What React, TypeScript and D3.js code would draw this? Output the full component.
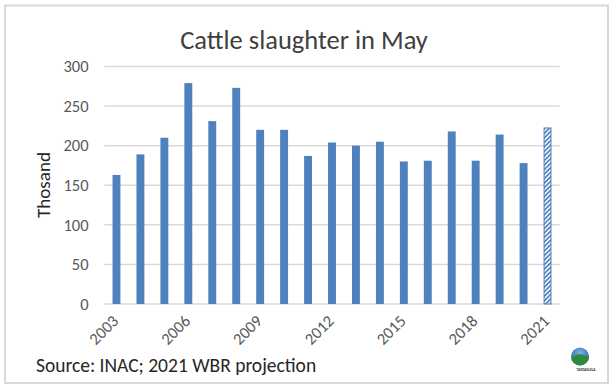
import React from "react";
import * as d3 from "d3";

const years: string[] = ["2003","2004","2005","2006","2007","2008","2009","2010","2011","2012","2013","2014","2015","2016","2017","2018","2019","2020","2021"];
const slaughter: number[] = [163,189,210,279,231,273,220,220,187,204,200,205,180,181,218,181,214,178,223];
const projectedYears: string[] = ["2021"];
const yTicks: number[] = [0,50,100,150,200,250,300];
const xTickLabels: string[] = ["2003","2006","2009","2012","2015","2018","2021"];

const FONT = "Carlito, Calibri, Lato, sans-serif";
const BLUE = "#4f81bd";

export default function App() {
  const x = d3.scaleBand<string>().domain(years).range([104.5, 559.5]).paddingInner(0.67).paddingOuter(0.335);
  const y = d3.scaleLinear().domain([0, 300]).range([304, 66.5]);
  const bw = x.bandwidth();
  return (
    <svg width={615} height={390} style={{ position: "absolute", left: 0, top: 0 }} fontFamily={FONT}>
      <defs>
        <pattern id="hatch" patternUnits="userSpaceOnUse" width={3.2} height={3.2} patternTransform="rotate(45)">
          <rect width={3.2} height={3.2} fill={BLUE} />
          <rect width={1.5} height={3.2} fill="#ffffff" />
        </pattern>
        <radialGradient id="sky" cx="0.5" cy="0.3" r="0.7">
          <stop offset="0" stopColor="#7fb3e0" />
          <stop offset="1" stopColor="#1c5fa8" />
        </radialGradient>
        <clipPath id="logoClip"><circle cx={580} cy={356.5} r={9} /></clipPath>
      </defs>
      <rect x={0} y={0} width={615} height={390} fill="#ffffff" />
      <rect x={5} y={5.5} width={603} height={377.5} fill="#ffffff" stroke="#d9d9d9" strokeWidth={2} />
      <text x={304} y={49} textAnchor="middle" fontSize={26.5} fill="#404040">Cattle slaughter in May</text>
      {yTicks.map((t) => (
        <g key={t}>
          <line x1={104.5} x2={559.5} y1={y(t)} y2={y(t)} stroke="#d9d9d9" strokeWidth={1.5} />
          <text x={88.5} y={y(t)} dy="0.35em" textAnchor="end" fontSize={16.5} fill="#595959">{t}</text>
        </g>
      ))}
      {years.map((yr, i) => {
        const proj = projectedYears.includes(yr);
        const x0 = x(yr) as number;
        return (
          <rect key={yr} x={proj ? x0 + 0.5 : x0} y={y(slaughter[i]) + (proj ? 0.5 : 0)} width={proj ? bw - 1 : bw}
            height={y(0) - y(slaughter[i]) - (proj ? 0.5 : 0)}
            fill={proj ? "url(#hatch)" : BLUE} stroke={proj ? BLUE : "none"} strokeWidth={1} />
        );
      })}
      {xTickLabels.map((yr) => {
        const cx = (x(yr) as number) + bw / 2 + 3;
        const cy = 322;
        return (
          <text key={yr} x={cx} y={cy} textAnchor="end" fontSize={16.5} fill="#595959" transform={`rotate(-45 ${cx} ${cy})`}>{yr}</text>
        );
      })}
      <text x={43} y={185} textAnchor="middle" fontSize={19} fill="#262626" transform="rotate(-90 43 185)" dy="0.35em">Thosand</text>
      <text x={36} y={372} fontSize={19.5} fill="#262626">Source: INAC; 2021 WBR projection</text>
      <g>
        <circle cx={580} cy={356.5} r={9} fill="url(#sky)" />
        <g clipPath="url(#logoClip)">
          <path d="M569,361 Q576,352 583,355 Q588,357 592,356 L592,367 L569,367 Z" fill="#2e8b3a" />
        </g>
        <text x={586} y={371} textAnchor="middle" fontSize={3.5} fontWeight="bold" fill="#333">TARDAGUILA</text>
      </g>
    </svg>
  );
}
